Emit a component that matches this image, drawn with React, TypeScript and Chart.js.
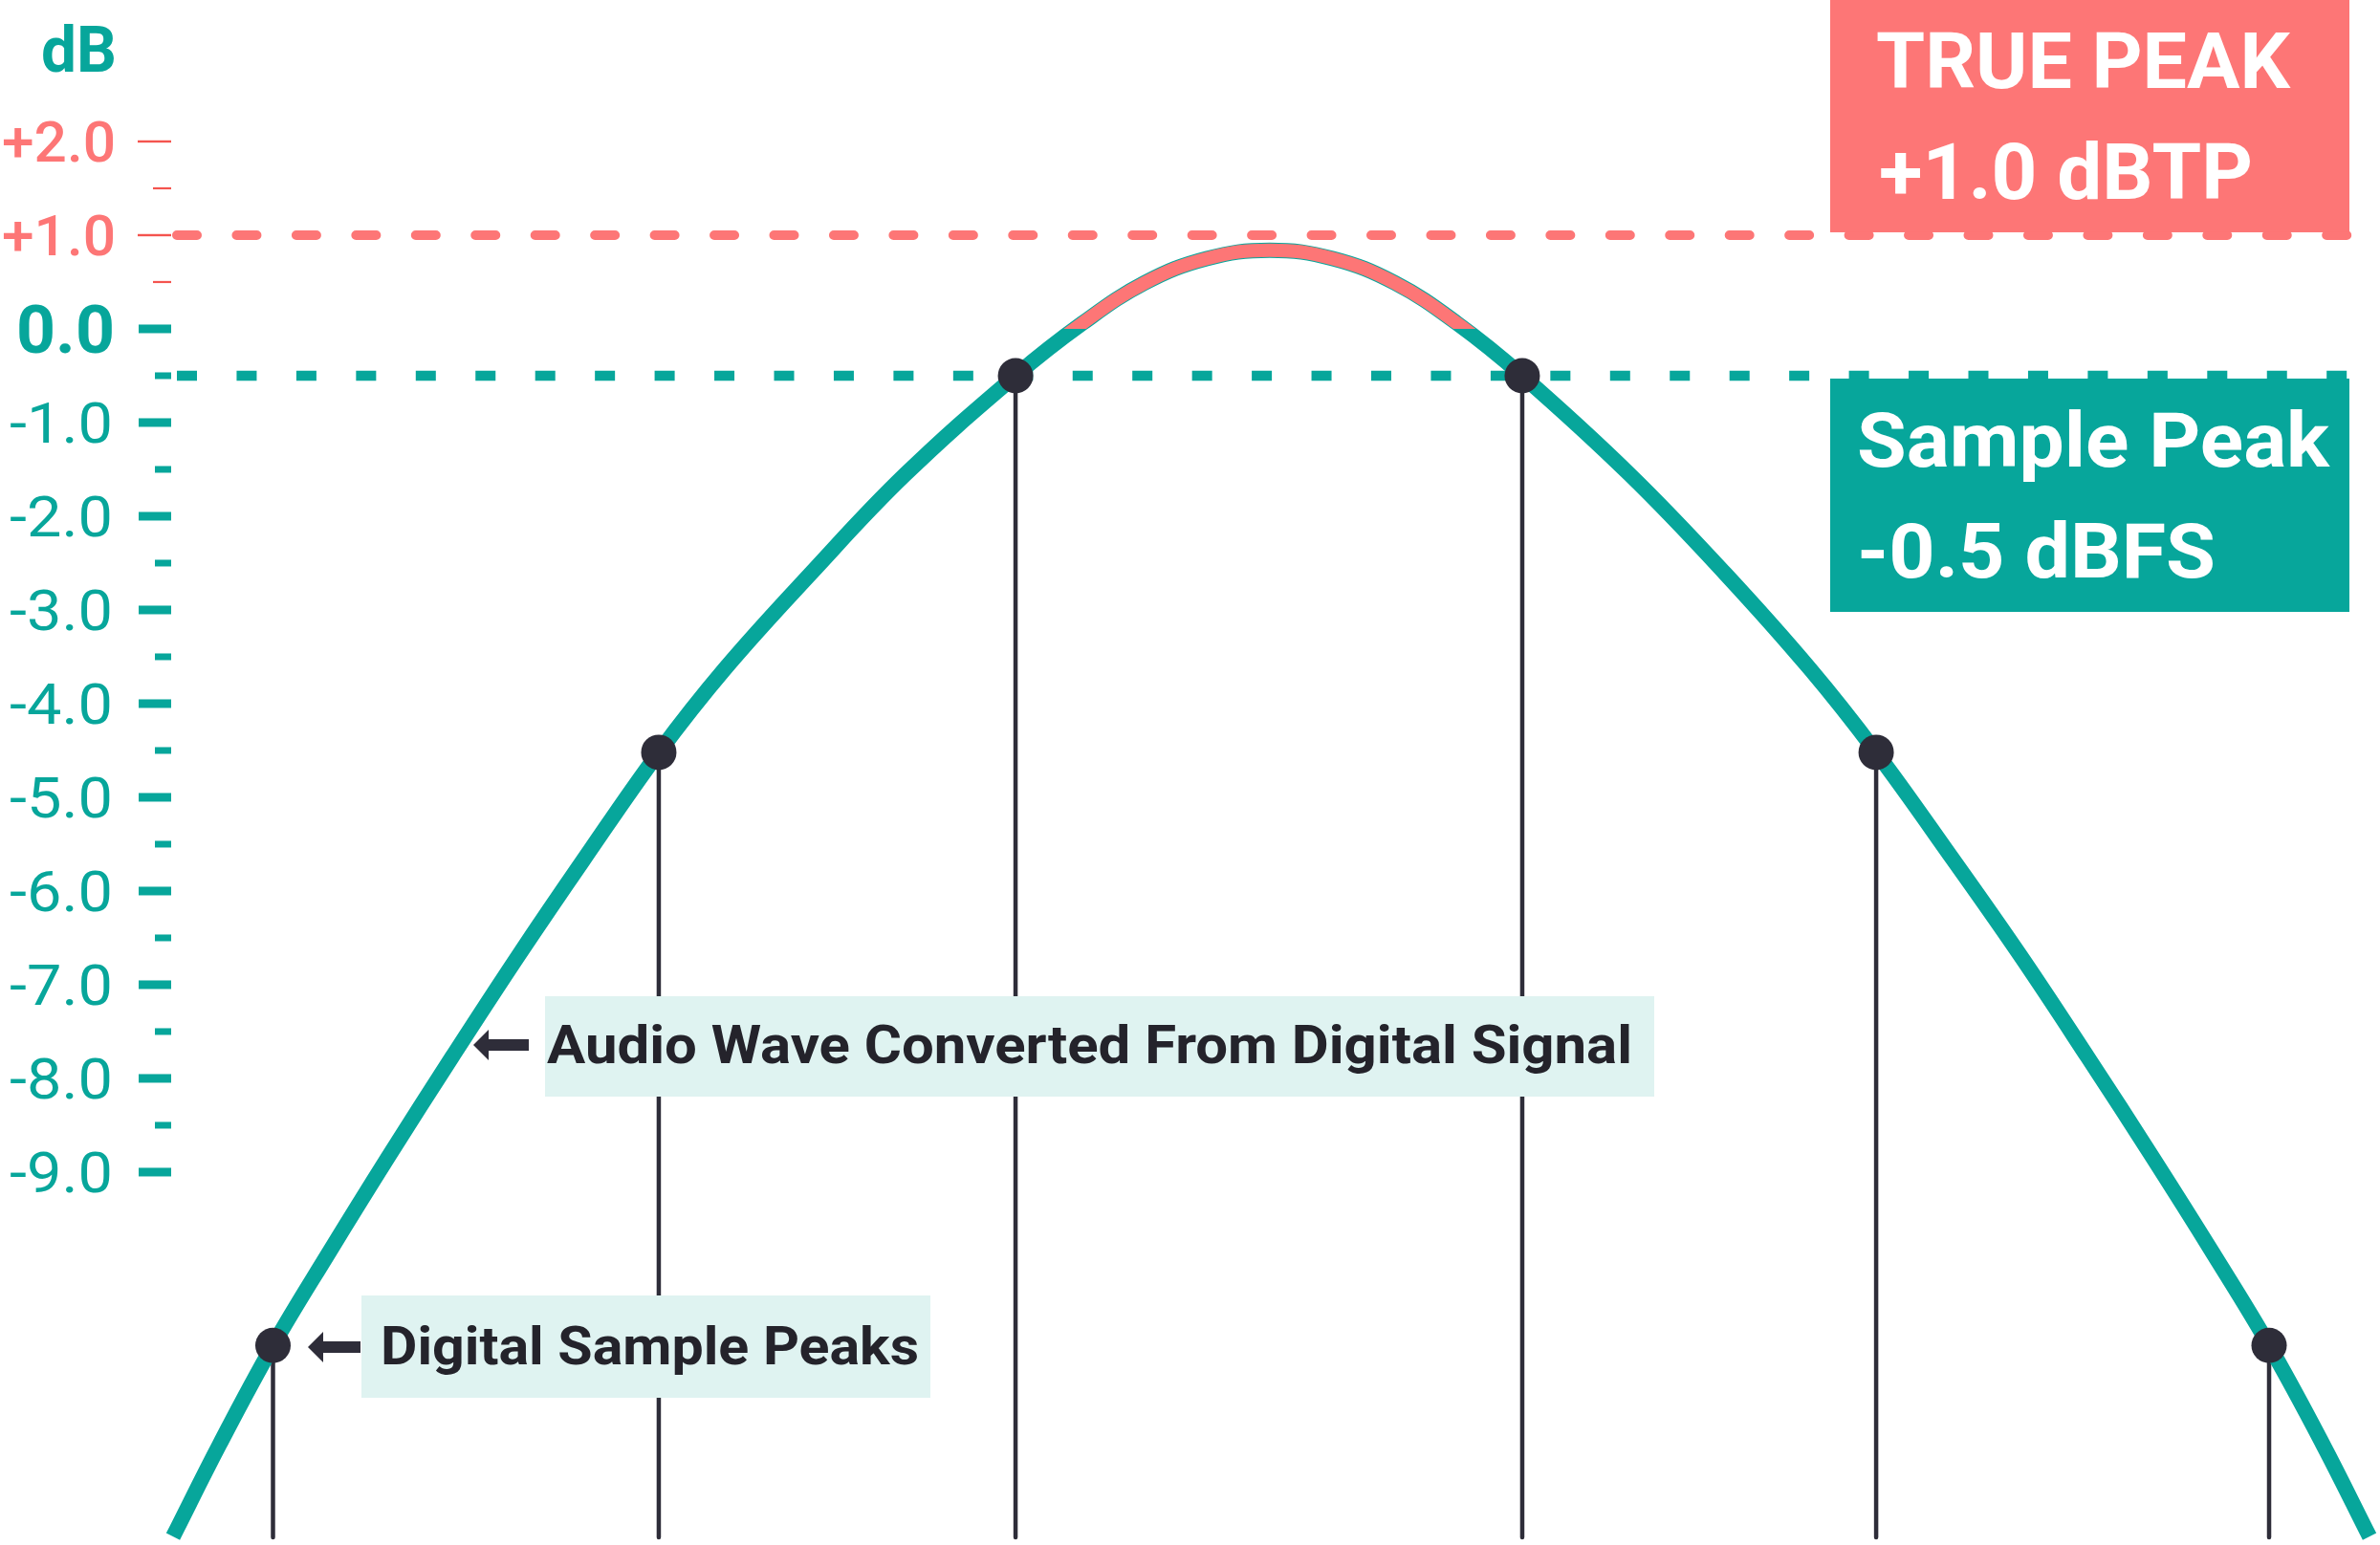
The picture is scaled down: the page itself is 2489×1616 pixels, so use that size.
import React, { useEffect, useRef } from "react";
import { Chart, registerables } from "chart.js";

Chart.register(...registerables);

// ---------- data ----------
// time axis in arbitrary units (0..100), level in dB
const waveTimes = [7.27, 9.24, 11.47, 13.82, 16.31, 19.0, 21.78, 24.51, 27.68, 30.45, 34.07, 38.01, 42.67, 45.48, 48.09, 50.7, 53.35, 56.0, 58.61, 61.22, 63.96, 68.5, 72.48, 76.05, 78.83, 82.08, 84.89, 87.71, 90.44, 92.97, 95.34, 97.59, 99.56];
const waveLevels = [-12.89, -11.9, -10.85, -9.86, -8.84, -7.77, -6.69, -5.67, -4.52, -3.63, -2.61, -1.56, -0.5, 0.06, 0.49, 0.75, 0.84, 0.75, 0.49, 0.06, -0.5, -1.56, -2.61, -3.63, -4.52, -5.67, -6.69, -7.77, -8.84, -9.86, -10.85, -11.9, -12.89];

const sampleTimes = [11.47, 27.68, 42.67, 63.96, 78.83, 95.34];
const sampleLevels = [-10.85, -4.52, -0.5, -0.5, -4.52, -10.85];

const majorTickValues = [2, 1, 0, -1, -2, -3, -4, -5, -6, -7, -8, -9];
const majorTickLabels = ["+2.0", "+1.0", "0.0", "-1.0", "-2.0", "-3.0", "-4.0", "-5.0", "-6.0", "-7.0", "-8.0", "-9.0"];
const minorTickValues = [1.5, 0.5, -0.5, -1.5, -2.5, -3.5, -4.5, -5.5, -6.5, -7.5, -8.5];

const truePeakDb = 1.0;
const samplePeakDb = -0.5;
const axisTitle = "dB";
const truePeakLines = ["TRUE PEAK", "+1.0 dBTP"];
const samplePeakLines = ["Sample Peak", "-0.5 dBFS"];
const waveNote = "Audio Wave Converted From Digital Signal";
const sampleNote = "Digital Sample Peaks";

// ---------- styles ----------
const TEAL = "#07a69b";
const RED = "#fd7676";
const TICK_RED = "#f4544f";
const DARK = "#2e2d39";
const NOTE_BG = "#dff3f1";
const NOTE_TEXT = "#24232b";
const FONT = "Roboto, 'Noto Sans', sans-serif";

function fitText(
  ctx: CanvasRenderingContext2D,
  text: string,
  x: number,
  baseline: number,
  width: number,
  font: string,
  color: string,
  align: "left" | "right" = "left"
) {
  ctx.save();
  ctx.font = font;
  ctx.textAlign = "left";
  ctx.textBaseline = "alphabetic";
  const w = ctx.measureText(text).width || 1;
  const sx = width / w;
  const left = align === "right" ? x - width : x;
  ctx.translate(left, baseline);
  ctx.scale(sx, 1);
  ctx.fillStyle = color;
  ctx.fillText(text, 0, 0);
  ctx.restore();
}

function drawArrow(ctx: CanvasRenderingContext2D, tipX: number, endX: number, cy: number) {
  ctx.save();
  ctx.fillStyle = DARK;
  ctx.beginPath();
  ctx.moveTo(tipX, cy);
  ctx.lineTo(tipX + 16, cy - 16);
  ctx.lineTo(tipX + 16, cy - 6);
  ctx.lineTo(endX, cy - 6);
  ctx.lineTo(endX, cy + 6);
  ctx.lineTo(tipX + 16, cy + 6);
  ctx.lineTo(tipX + 16, cy + 16);
  ctx.closePath();
  ctx.fill();
  ctx.restore();
}

const decorPlugin = {
  id: "decor",
  beforeDatasetsDraw(chart: any) {
    const { ctx, chartArea, scales } = chart;
    const y = scales.y;
    const x = scales.x;
    ctx.save();
    // stems from sample peaks down to the bottom
    ctx.strokeStyle = DARK;
    ctx.lineWidth = 4.5;
    ctx.lineCap = "round";
    sampleTimes.forEach((t, i) => {
      const px = x.getPixelForValue(t);
      const py = y.getPixelForValue(sampleLevels[i]);
      ctx.beginPath();
      ctx.moveTo(px, py);
      ctx.lineTo(px, chartArea.bottom - 8);
      ctx.stroke();
    });

    // true peak dashed line
    const yTp = y.getPixelForValue(truePeakDb);
    ctx.strokeStyle = RED;
    ctx.lineWidth = 10;
    ctx.lineCap = "round";
    ctx.setLineDash([21, 41.45]);
    ctx.beginPath();
    ctx.moveTo(185, yTp);
    ctx.lineTo(chartArea.right + 20, yTp);
    ctx.stroke();

    // sample peak dashed line
    const ySp = y.getPixelForValue(samplePeakDb);
    ctx.strokeStyle = TEAL;
    ctx.lineWidth = 10.5;
    ctx.lineCap = "butt";
    ctx.setLineDash([21, 41.45]);
    ctx.beginPath();
    ctx.moveTo(185, ySp);
    ctx.lineTo(chartArea.right + 20, ySp);
    ctx.stroke();
    ctx.setLineDash([]);

    // axis ticks
    majorTickValues.forEach((v) => {
      const py = y.getPixelForValue(v);
      if (v > 0) {
        ctx.fillStyle = TICK_RED;
        ctx.fillRect(144, py - 1.2, 35, 2.4);
      } else {
        ctx.fillStyle = TEAL;
        ctx.fillRect(145, py - 4.5, 34, 9);
      }
    });
    minorTickValues.forEach((v) => {
      const py = y.getPixelForValue(v);
      if (v > 0) {
        ctx.fillStyle = TICK_RED;
        ctx.fillRect(160, py - 1.1, 19, 2.2);
      } else {
        ctx.fillStyle = TEAL;
        ctx.fillRect(162, py - 3.5, 17, 7);
      }
    });

    // tick labels
    majorTickValues.forEach((v, i) => {
      const py = y.getPixelForValue(v);
      const label = majorTickLabels[i];
      if (v > 0) {
        fitText(ctx, label, 121, py + 21, 119, `500 59px ${FONT}`, RED, "right");
      } else if (v === 0) {
        fitText(ctx, label, 120, py + 25, 103, `700 70px ${FONT}`, TEAL, "right");
      } else {
        fitText(ctx, label, 118, py + 21, 108, `400 59px ${FONT}`, TEAL, "right");
      }
    });

    // axis title
    fitText(ctx, axisTitle, 122, 75, 79, `700 66px ${FONT}`, TEAL, "right");
    ctx.restore();
  },
  afterDatasetsDraw(chart: any) {
    const { ctx, scales } = chart;
    const y = scales.y;
    ctx.save();
    // true peak box
    const tpBottom = y.getPixelForValue(truePeakDb) - 3;
    ctx.fillStyle = RED;
    ctx.fillRect(1914, 0, 543, tpBottom);
    fitText(ctx, truePeakLines[0], 1962, 92, 433, `700 82px ${FONT}`, "#ffffff");
    fitText(ctx, truePeakLines[1], 1965, 208, 391, `700 82px ${FONT}`, "#ffffff");

    // sample peak box
    const spTop = y.getPixelForValue(samplePeakDb) + 3;
    ctx.fillStyle = TEAL;
    ctx.fillRect(1914, spTop, 543, 640 - spTop);
    fitText(ctx, samplePeakLines[0], 1942, 488, 494, `700 80px ${FONT}`, "#ffffff");
    fitText(ctx, samplePeakLines[1], 1942, 604, 375, `700 80px ${FONT}`, "#ffffff");

    // annotation: wave
    ctx.fillStyle = NOTE_BG;
    ctx.fillRect(570, 1042, 1160, 105);
    fitText(ctx, waveNote, 572, 1112, 1135, `700 56px ${FONT}`, NOTE_TEXT);
    drawArrow(ctx, 495, 553, 1093);

    // annotation: samples
    ctx.fillStyle = NOTE_BG;
    ctx.fillRect(378, 1355, 595, 107);
    fitText(ctx, sampleNote, 398, 1427, 563, `700 56px ${FONT}`, NOTE_TEXT);
    drawArrow(ctx, 322, 377, 1409);
    ctx.restore();
  },
};

export default function App() {
  const ref = useRef<HTMLCanvasElement>(null);

  useEffect(() => {
    document.body.style.margin = "0";
    const canvas = ref.current;
    if (!canvas) return;

    const wavePoints = waveTimes.map((t, i) => ({ x: t, y: waveLevels[i] }));
    const samplePoints = sampleTimes.map((t, i) => ({ x: t, y: sampleLevels[i] }));

    const chart = new Chart(canvas, {
      type: "line",
      data: {
        datasets: [
          {
            label: "samples",
            data: samplePoints,
            showLine: false,
            pointRadius: 18.5,
            pointHoverRadius: 18.5,
            pointBackgroundColor: DARK,
            pointBorderWidth: 0,
            borderColor: DARK,
            order: 1,
          },
          {
            label: "over",
            data: wavePoints,
            borderWidth: 14,
            pointRadius: 0,
            tension: 0.4,
            borderCapStyle: "butt",
            fill: false,
            order: 2,
            borderColor: (c: any) => {
              const chart = c.chart;
              const area = chart.chartArea;
              if (!area) return "rgba(0,0,0,0)";
              const y0 = chart.scales.y.getPixelForValue(0);
              const f = Math.min(1, Math.max(0, (y0 - area.top) / (area.bottom - area.top)));
              const g = chart.ctx.createLinearGradient(0, area.top, 0, area.bottom);
              g.addColorStop(0, RED);
              g.addColorStop(f, RED);
              g.addColorStop(f, "rgba(253,118,118,0)");
              g.addColorStop(1, "rgba(253,118,118,0)");
              return g;
            },
          },
          {
            label: "wave",
            data: wavePoints,
            borderColor: TEAL,
            borderWidth: 16,
            pointRadius: 0,
            tension: 0.4,
            borderCapStyle: "butt",
            fill: false,
            order: 3,
          },
        ] as any,
      },
      options: {
        animation: false,
        responsive: false,
        devicePixelRatio: 1,
        layout: { padding: 0, autoPadding: false },
        events: [],
        plugins: {
          legend: { display: false },
          tooltip: { enabled: false },
        },
        scales: {
          x: { type: "linear", min: 0, max: 100, display: false },
          y: { type: "linear", min: -12.98, max: 3.51, display: false },
        },
      },
      plugins: [decorPlugin],
    } as any);

    return () => chart.destroy();
  }, []);

  return (
    <div style={{ width: 2489, height: 1616 }}>
      <canvas ref={ref} width={2489} height={1616} style={{ display: "block" }} />
    </div>
  );
}
